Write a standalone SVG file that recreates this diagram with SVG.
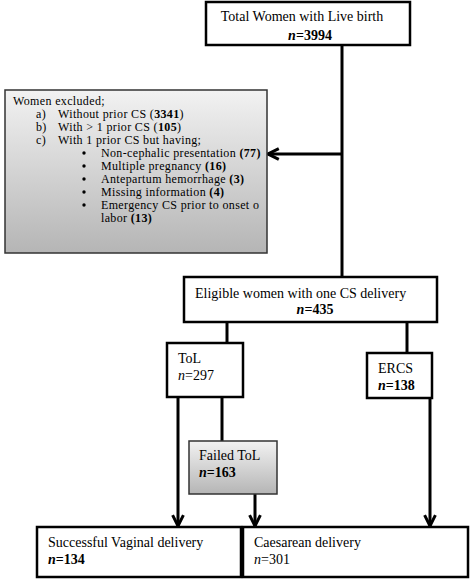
<svg xmlns="http://www.w3.org/2000/svg" width="473" height="579" viewBox="0 0 473 579">
<style>
text{font-family:"Liberation Serif","Times New Roman",serif;fill:#000}
.t{font-size:14px}
.s{font-size:12px;letter-spacing:0.35px}
.b{font-weight:bold}
.i{font-style:italic}
.box{fill:#fff;stroke:#000;stroke-width:2.5}
.gbox{stroke:#333;stroke-width:1.5}
.con{fill:none;stroke:#000;stroke-width:3}
</style>
<defs>
<linearGradient id="g" x1="0" y1="0" x2="0" y2="1">
<stop offset="0" stop-color="#f2f2f2"/>
<stop offset="1" stop-color="#b5b5b5"/>
</linearGradient>
<marker id="ah" viewBox="0 0 10 10" refX="9" refY="5" markerWidth="4.5" markerHeight="4.5" orient="auto" markerUnits="strokeWidth">
<path d="M1,1 L9,5 L1,9" fill="none" stroke="#000" stroke-width="2.2"/>
</marker>
</defs>
<g id="connectors">
<line class="con" x1="342" y1="45" x2="342" y2="277"/>
<line class="con" x1="342" y1="154" x2="268" y2="154" marker-end="url(#ah)"/>
<line class="con" x1="227" y1="322" x2="227" y2="343"/>
<line class="con" x1="407" y1="322" x2="407" y2="353"/>
<line class="con" x1="178" y1="397" x2="178" y2="526" marker-end="url(#ah)"/>
<line class="con" x1="222" y1="397" x2="222" y2="441"/>
<line class="con" x1="255" y1="494" x2="255" y2="526" marker-end="url(#ah)"/>
<line class="con" x1="430" y1="398" x2="430" y2="526" marker-end="url(#ah)"/>
</g>
<g id="total">
<rect class="box" x="206" y="2" width="204" height="43"/>
<text class="t" x="302" y="21" text-anchor="middle">Total Women with Live birth</text>
<text class="t b" x="310" y="40" text-anchor="middle"><tspan class="i">n</tspan>=3994</text>
</g>
<g id="excluded">
<rect class="gbox" x="5" y="90" width="262" height="163" fill="url(#g)"/>
<text class="s" x="13" y="105">Women excluded;</text>
<text class="s" x="36" y="118">a)</text>
<text class="s" x="58" y="118">Without prior CS (<tspan class="b">3341</tspan>)</text>
<text class="s" x="36" y="131">b)</text>
<text class="s" x="58" y="131">With &gt; 1 prior CS (<tspan class="b">105</tspan>)</text>
<text class="s" x="36" y="144">c)</text>
<text class="s" x="58" y="144">With 1 prior CS but having;</text>
<g>
<circle cx="84" cy="153" r="1.7"/>
<circle cx="84" cy="166" r="1.7"/>
<circle cx="84" cy="179" r="1.7"/>
<circle cx="84" cy="192" r="1.7"/>
<circle cx="84" cy="205" r="1.7"/>
</g>
<text class="s" x="101" y="157">Non-cephalic presentation <tspan class="b">(77)</tspan></text>
<text class="s" x="101" y="170">Multiple pregnancy <tspan class="b">(16)</tspan></text>
<text class="s" x="101" y="183">Antepartum hemorrhage <tspan class="b">(3)</tspan></text>
<text class="s" x="101" y="196"> Missing information <tspan class="b">(4)</tspan></text>
<text class="s" x="101" y="209">Emergency CS prior to onset o</text>
<text class="s" x="101" y="222">labor <tspan class="b">(13)</tspan></text>
</g>
<g id="eligible">
<rect class="box" x="184" y="277" width="253" height="45"/>
<text class="t" x="195" y="298">Eligible women with one CS delivery</text>
<text class="t b" x="315" y="314" text-anchor="middle"><tspan class="i">n</tspan>=435</text>
</g>
<g id="tol">
<rect class="box" x="167" y="343" width="76" height="54"/>
<text class="t" x="178" y="363">ToL</text>
<text class="t" x="178" y="380"><tspan class="i">n</tspan>=297</text>
</g>
<g id="ercs">
<rect class="box" x="367" y="353" width="65" height="45"/>
<text class="t" x="378" y="373">ERCS</text>
<text class="t b" x="378" y="390"><tspan class="i">n</tspan>=138</text>
</g>
<g id="failed">
<rect class="gbox" x="189" y="441" width="88" height="53" fill="url(#g)"/>
<text class="t" x="199" y="460">Failed ToL</text>
<text class="t b" x="199" y="477"><tspan class="i">n</tspan>=163</text>
</g>
<g id="successful">
<rect class="box" x="37" y="527" width="204" height="50"/>
<text class="t" x="48" y="547">Successful Vaginal delivery</text>
<text class="t b" x="48" y="564"><tspan class="i">n</tspan>=134</text>
</g>
<g id="caesarean">
<rect class="box" x="243" y="527" width="225" height="50"/>
<text class="t" x="254" y="547">Caesarean delivery</text>
<text class="t" x="254" y="564"><tspan class="i">n</tspan>=301</text>
</g>
</svg>
